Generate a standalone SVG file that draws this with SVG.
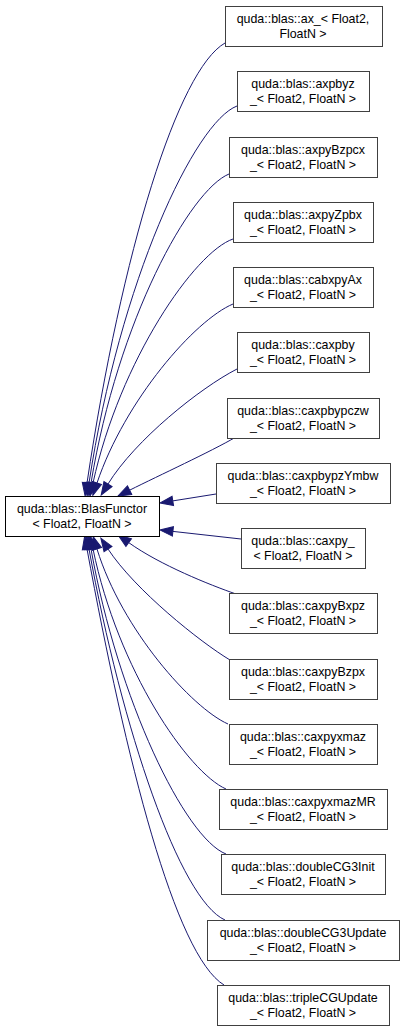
<svg xmlns="http://www.w3.org/2000/svg" width="404" height="1032" viewBox="0 0 404 1032">
<defs>
<marker id="ah" markerUnits="userSpaceOnUse" markerWidth="14" markerHeight="12" refX="0" refY="0" orient="auto" overflow="visible">
<path d="M0,-4.75 L13,0 L0,4.75 z" fill="#191970" stroke="#191970" stroke-width="1"/>
</marker>
</defs>
<style>
rect.n{fill:#fff;stroke:#404040;stroke-width:1}
rect.f{fill:#fff;stroke:#000;stroke-width:1}
text{font-family:"Liberation Sans",Arial,sans-serif;font-size:12.4px;fill:#000;text-anchor:middle}
#edges path{fill:none;stroke:#191970;stroke-width:1;marker-end:url(#ah)}
</style>
<g id="edges">
<path d="M225,43 C178,70 122,250 87,483"/>
<path d="M237,106 C195,122 120,280 89,483"/>
<path d="M229,174 C190,190 118,320 91,483"/>
<path d="M233,239 C195,252 120,360 93,483"/>
<path d="M233,304 C195,320 125,400 97,483"/>
<path d="M237,369 C200,388 135,440 108,484"/>
<path d="M236,437 C210,452 160,475 129.6,490.2"/>
<path d="M216,494 L172.8,500.9"/>
<path d="M241,539 L172.9,531.4"/>
<path d="M236,594 C210,585 160,565 128.7,542.6"/>
<path d="M230,660 C200,642 135,590 108,549"/>
<path d="M228,724 C192,708 122,630 97,549"/>
<path d="M226,789 C188,772 118,670 93,549"/>
<path d="M226,854 C185,838 118,700 91,549"/>
<path d="M225,920 C180,900 122,730 89,549"/>
<path d="M224,985 C175,955 126,760 87,549"/>
</g>
<g id="BlasFunctor"><rect class="f" x="5.5" y="496.5" width="154" height="40"/><text x="82" y="513">quda::blas::BlasFunctor</text><text x="82" y="528">&lt; Float2, FloatN &gt;</text></g>
<g id="ax"><rect class="n" x="225.5" y="6.5" width="157" height="40"/><text x="303" y="23">quda::blas::ax_&lt; Float2,</text><text x="303" y="38">FloatN &gt;</text></g>
<g id="axpbyz"><rect class="n" x="237.5" y="71.5" width="132" height="40"/><text x="303" y="88">quda::blas::axpbyz</text><text x="303" y="103">_&lt; Float2, FloatN &gt;</text></g>
<g id="axpyBzpcx"><rect class="n" x="229.5" y="137.5" width="148" height="40"/><text x="303" y="154">quda::blas::axpyBzpcx</text><text x="303" y="169">_&lt; Float2, FloatN &gt;</text></g>
<g id="axpyZpbx"><rect class="n" x="233.5" y="202.5" width="140" height="40"/><text x="303" y="219">quda::blas::axpyZpbx</text><text x="303" y="234">_&lt; Float2, FloatN &gt;</text></g>
<g id="cabxpyAx"><rect class="n" x="233.5" y="267.5" width="140" height="40"/><text x="303" y="284">quda::blas::cabxpyAx</text><text x="303" y="299">_&lt; Float2, FloatN &gt;</text></g>
<g id="caxpby"><rect class="n" x="237.5" y="332.5" width="132" height="40"/><text x="303" y="349">quda::blas::caxpby</text><text x="303" y="364">_&lt; Float2, FloatN &gt;</text></g>
<g id="caxpbypczw"><rect class="n" x="227.5" y="398.5" width="152" height="40"/><text x="303" y="415">quda::blas::caxpbypczw</text><text x="303" y="430">_&lt; Float2, FloatN &gt;</text></g>
<g id="caxpbypzYmbw"><rect class="n" x="216.5" y="463.5" width="174" height="40"/><text x="303" y="480">quda::blas::caxpbypzYmbw</text><text x="303" y="495">_&lt; Float2, FloatN &gt;</text></g>
<g id="caxpy"><rect class="n" x="241.5" y="528.5" width="124" height="40"/><text x="303" y="545">quda::blas::caxpy_</text><text x="303" y="560">&lt; Float2, FloatN &gt;</text></g>
<g id="caxpyBxpz"><rect class="n" x="229.5" y="593.5" width="148" height="40"/><text x="303" y="610">quda::blas::caxpyBxpz</text><text x="303" y="625">_&lt; Float2, FloatN &gt;</text></g>
<g id="caxpyBzpx"><rect class="n" x="229.5" y="659.5" width="148" height="40"/><text x="303" y="676">quda::blas::caxpyBzpx</text><text x="303" y="691">_&lt; Float2, FloatN &gt;</text></g>
<g id="caxpyxmaz"><rect class="n" x="229.5" y="724.5" width="148" height="40"/><text x="303" y="741">quda::blas::caxpyxmaz</text><text x="303" y="756">_&lt; Float2, FloatN &gt;</text></g>
<g id="caxpyxmazMR"><rect class="n" x="219.5" y="789.5" width="168" height="40"/><text x="303" y="806">quda::blas::caxpyxmazMR</text><text x="303" y="821">_&lt; Float2, FloatN &gt;</text></g>
<g id="doubleCG3Init"><rect class="n" x="221.5" y="854.5" width="164" height="40"/><text x="303" y="871">quda::blas::doubleCG3Init</text><text x="303" y="886">_&lt; Float2, FloatN &gt;</text></g>
<g id="doubleCG3Update"><rect class="n" x="207.5" y="920.5" width="192" height="40"/><text x="303" y="937">quda::blas::doubleCG3Update</text><text x="303" y="952">_&lt; Float2, FloatN &gt;</text></g>
<g id="tripleCGUpdate"><rect class="n" x="217.5" y="985.5" width="172" height="40"/><text x="303" y="1002">quda::blas::tripleCGUpdate</text><text x="303" y="1017">_&lt; Float2, FloatN &gt;</text></g>
</svg>
